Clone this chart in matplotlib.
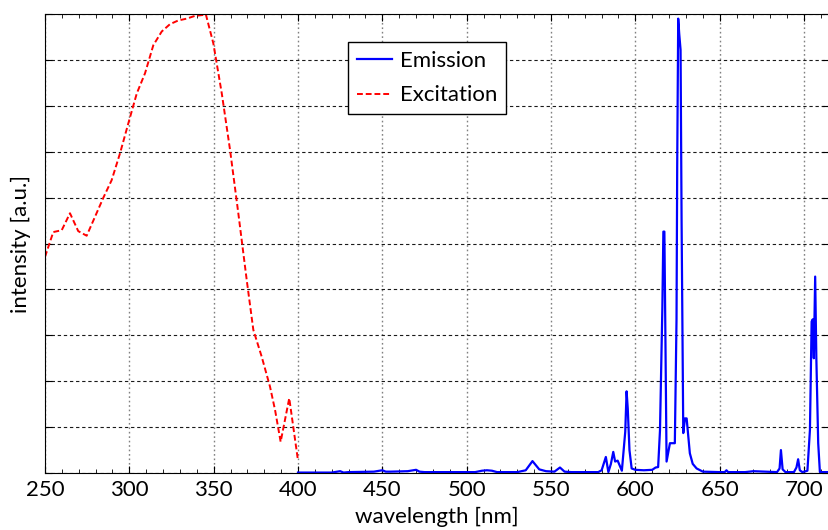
import matplotlib.pyplot as plt
import numpy as np
from matplotlib.ticker import MultipleLocator, NullFormatter

plt.rcParams['font.family'] = ['Lato', 'DejaVu Sans']
plt.rcParams['font.size'] = 16

# excitation spectrum (red dashed)
ex_wl = [250, 254.9, 259.9, 264.8, 269.7, 274.7, 279.6, 284.6, 289.5, 294.5,
         299.4, 304.4, 309.3, 314.2, 319.2, 324.1, 329.0, 334.0, 338.9, 343.8,
         345.3, 349.8, 354.8, 359.7, 364.6, 369.6, 373.5, 378.5, 383.4, 386.4,
         389.7, 394.8, 399.8]
ex_int = [4.71, 5.25, 5.29, 5.66, 5.27, 5.17, 5.58, 6.00, 6.38, 6.97,
          7.62, 8.27, 8.71, 9.32, 9.62, 9.78, 9.86, 9.90, 9.96, 9.98,
          10.0, 9.36, 8.27, 7.04, 5.66, 4.20, 3.12, 2.53, 1.88, 1.37,
          0.68, 1.63, 0.32]

# emission spectrum (blue solid)
em_wl = [400, 420, 425, 427, 430, 445, 450, 452, 455, 465, 470, 472, 475,
         505, 509, 512, 515, 518, 530, 535, 539, 543, 547, 552, 555.3, 558, 562,
         578, 580, 582.5, 584, 585.5, 586.9, 588, 589.5, 592, 594, 594.8, 595.5,
         596.5, 597.8, 600, 605, 610, 612, 613.5, 614.6, 616, 616.6, 617.2, 617.8,
         618.5, 620.5, 623.4, 624.4, 624.8, 625.4, 626, 626.8, 627.4, 628.4,
         629.4, 630.4, 632.3, 634, 636.3, 640, 650, 653, 654, 655, 665, 670,
         684, 685.5, 686.3, 687.3, 689, 694, 695.5, 696.5, 697.5, 699, 702,
         703.5, 704.5, 705.2, 705.8, 706.6, 707.3, 708.4, 709.4, 712, 715]
em_int = [0.01, 0.01, 0.04, 0.01, 0.02, 0.03, 0.06, 0.03, 0.03, 0.04, 0.07, 0.03, 0.02,
          0.02, 0.05, 0.06, 0.05, 0.02, 0.02, 0.06, 0.26, 0.08, 0.04, 0.03, 0.12, 0.03, 0.02,
          0.02, 0.06, 0.35, 0.02, 0.2, 0.46, 0.25, 0.27, 0.05, 0.9, 1.78, 1.4,
          0.5, 0.1, 0.07, 0.06, 0.07, 0.12, 0.13, 0.93, 3.6, 5.26, 5.26, 3.0,
          0.25, 0.65, 0.65, 3.35, 6.67, 9.9, 9.57, 9.22, 5.51, 0.87,
          1.19, 1.19, 0.43, 0.2, 0.1, 0.03, 0.02, 0.02, 0.06, 0.02, 0.02, 0.04,
          0.02, 0.1, 0.50, 0.08, 0.02, 0.02, 0.12, 0.30, 0.06, 0.02, 0.05,
          0.94, 3.3, 3.35, 2.5, 4.28, 2.5, 0.65, 0.02, 0.02, 0.02]

fig = plt.figure(figsize=(8.29, 5.30), dpi=100)
ax = fig.add_axes([0.0543, 0.1075, 0.9457, 0.866])

ax.plot(em_wl, em_int, color='#0000ff', lw=1.6, label='Emission')
ax.plot(ex_wl, ex_int, color='#ff0000', lw=1.4, ls=(0, (3, 1.5)), label='Excitation')

ax.set_xlim(250, 714.8)
ax.set_ylim(0, 10)
ax.xaxis.set_major_locator(MultipleLocator(50))
ax.xaxis.set_minor_locator(MultipleLocator(10))
ax.yaxis.set_major_locator(MultipleLocator(1))
ax.yaxis.set_major_formatter(NullFormatter())
ax.tick_params(which='both', direction='in', top=True, right=True)
ax.tick_params(which='major', length=5, pad=5)
ax.tick_params(which='minor', length=3)
ax.xaxis.grid(True, color='0.5', ls=(0, (1.2, 2)), lw=1.0)
ax.yaxis.grid(True, color='0.1', ls=(0, (3, 2.5)), lw=0.8)

ax.set_xlabel('wavelength [nm]', labelpad=5)
ax.set_ylabel('intensity [a.u.]', labelpad=5)

leg = ax.legend(loc='upper left', bbox_to_anchor=(0.386, 0.939), fancybox=False,
                edgecolor='black', framealpha=1, handlelength=1.6, handletextpad=0.35,
                borderpad=0.4, labelspacing=0.65, borderaxespad=0)
leg.get_frame().set_linewidth(1.0)

fig.savefig('out.png', dpi=100)
